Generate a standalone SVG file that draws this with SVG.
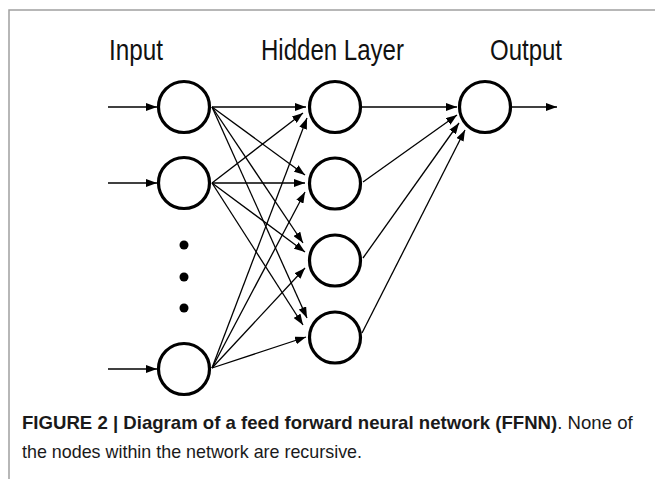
<svg xmlns="http://www.w3.org/2000/svg" width="655" height="479" viewBox="0 0 655 479">
<style>
.node{fill:#fff;stroke:#000;stroke-width:3.2}
.dot{fill:#000}
.edge{stroke:#000;stroke-width:1.3;fill:none;marker-end:url(#ah)}
.hdr{font-family:"Liberation Sans",Arial,sans-serif;font-size:29px;fill:#111}
.cap{font-family:"Liberation Sans",Arial,sans-serif;font-size:18.6px;fill:#1a1a1a}
.b{font-weight:bold}
.frame{stroke:#a0a0a0;stroke-width:1.5;fill:none}
</style>
<defs>
<marker id="ah" markerUnits="userSpaceOnUse" markerWidth="11" markerHeight="8" refX="11" refY="4" orient="auto">
<path d="M0,0 L11,4 L0,8 z" fill="#000"/>
</marker>
</defs>
<rect width="655" height="479" fill="#fff"/>
<path class="frame" d="M655,10 H9 V479"/>
<g id="labels">
<text class="hdr" x="109" y="60" textLength="54" lengthAdjust="spacingAndGlyphs">Input</text>
<text class="hdr" x="261" y="60" textLength="143" lengthAdjust="spacingAndGlyphs">Hidden Layer</text>
<text class="hdr" x="490" y="60" textLength="72" lengthAdjust="spacingAndGlyphs">Output</text>
</g>
<g id="connectors">
<line class="edge" x1="108" y1="107" x2="157" y2="107"/>
<line class="edge" x1="108" y1="183" x2="157" y2="183"/>
<line class="edge" x1="108" y1="369" x2="157" y2="369"/>
<line class="edge" x1="212" y1="107" x2="306" y2="107"/>
<line class="edge" x1="212" y1="183" x2="303" y2="113"/>
<line class="edge" x1="212" y1="368" x2="307" y2="118"/>
<line class="edge" x1="212" y1="107" x2="305" y2="175"/>
<line class="edge" x1="212" y1="183" x2="305" y2="183"/>
<line class="edge" x1="212" y1="368" x2="305" y2="192"/>
<line class="edge" x1="212" y1="107" x2="303" y2="243"/>
<line class="edge" x1="212" y1="183" x2="305" y2="252"/>
<line class="edge" x1="212" y1="368" x2="305" y2="268"/>
<line class="edge" x1="212" y1="107" x2="307" y2="318"/>
<line class="edge" x1="212" y1="183" x2="303" y2="325"/>
<line class="edge" x1="212" y1="368" x2="306" y2="337"/>
<line class="edge" x1="362" y1="107" x2="457" y2="107"/>
<line class="edge" x1="363" y1="182" x2="457" y2="115"/>
<line class="edge" x1="363" y1="258" x2="459" y2="123"/>
<line class="edge" x1="362" y1="333" x2="465" y2="130"/>
<line class="edge" x1="512" y1="107" x2="557" y2="107"/>
</g>
<g id="input1"><circle class="node" cx="184" cy="107" r="25.5"/></g>
<g id="input2"><circle class="node" cx="184" cy="183" r="25.5"/></g>
<g id="ellipsis"><circle class="dot" cx="184" cy="245" r="4.5"/><circle class="dot" cx="184" cy="277" r="4.5"/><circle class="dot" cx="184" cy="308" r="4.5"/></g>
<g id="input3"><circle class="node" cx="184" cy="369" r="25.5"/></g>
<g id="hidden1"><circle class="node" cx="335" cy="107" r="25.5"/></g>
<g id="hidden2"><circle class="node" cx="335" cy="183.5" r="25.5"/></g>
<g id="hidden3"><circle class="node" cx="335" cy="260.5" r="25.5"/></g>
<g id="hidden4"><circle class="node" cx="335" cy="337.5" r="25.5"/></g>
<g id="output"><circle class="node" cx="485" cy="107" r="25.5"/></g>
<g id="caption">
<text class="cap" x="22" y="429"><tspan class="b">FIGURE 2 | Diagram of a feed forward neural network (FFNN)</tspan>. None of</text>
<text class="cap" x="22" y="458" textLength="340" lengthAdjust="spacingAndGlyphs">the nodes within the network are recursive.</text>
</g>
</svg>
